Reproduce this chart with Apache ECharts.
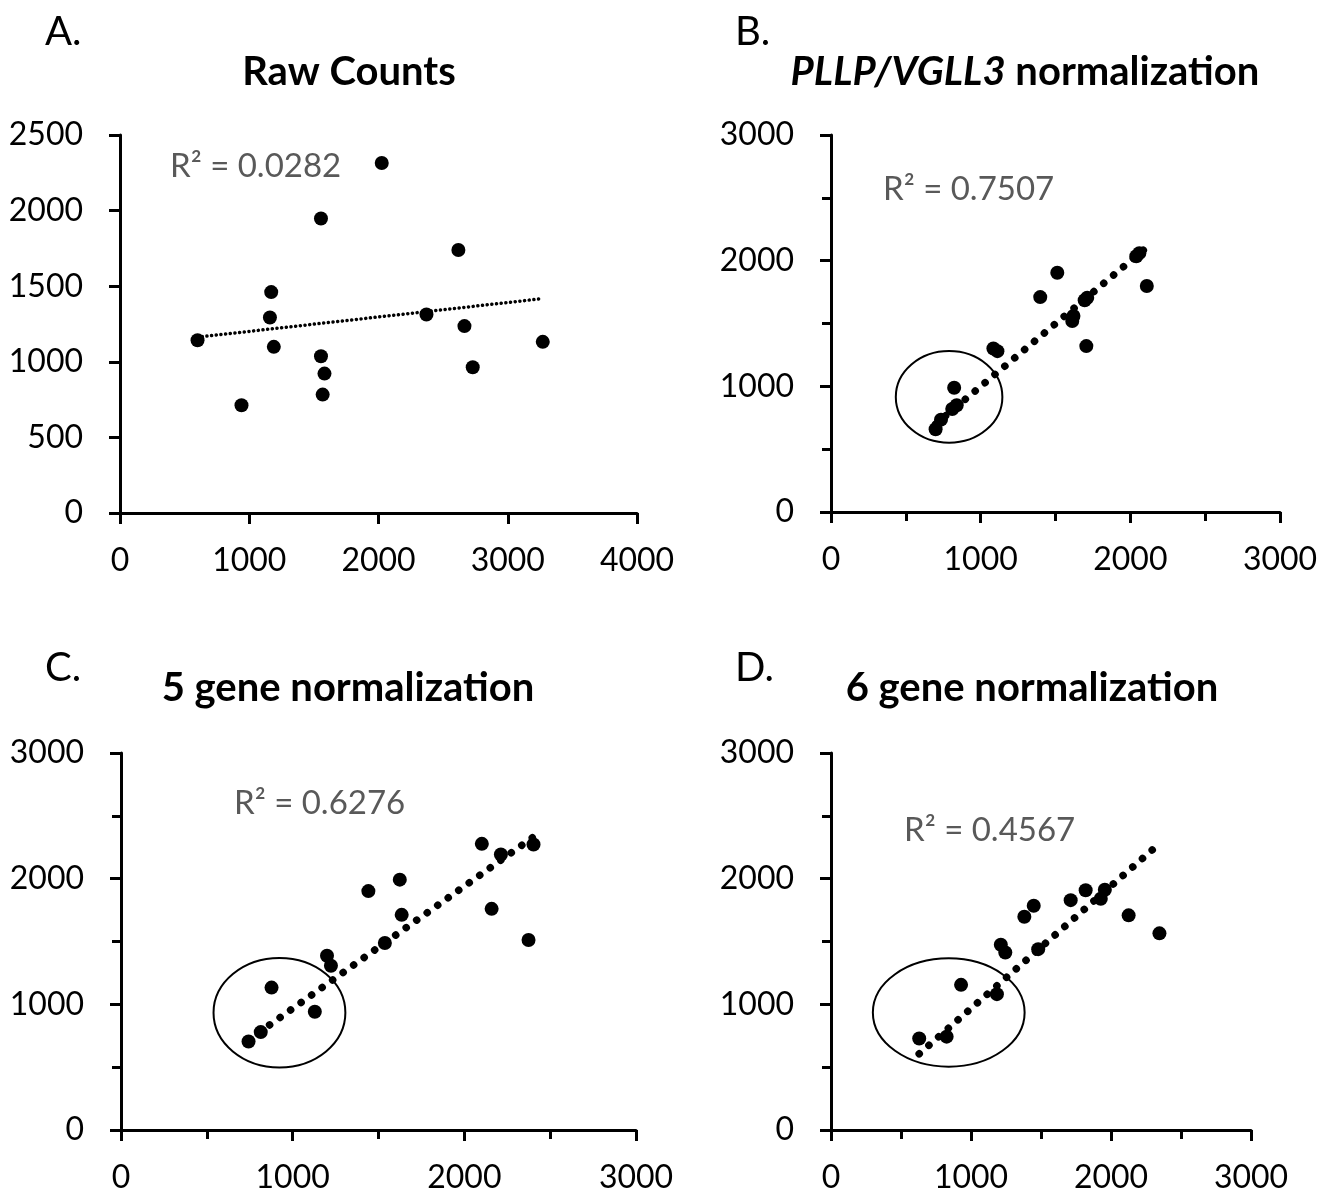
<!DOCTYPE html>
<html>
<head>
<meta charset="utf-8">
<script src="https://cdn.jsdelivr.net/npm/echarts@6/dist/echarts.min.js"></script>
<style>
  html, body { margin: 0; padding: 0; background: #fff; }
  #main { width: 1337px; height: 1195px; }
</style>
</head>
<body>
<div id="main"></div>
<script>
// values
var rawX = [600, 940, 1170, 1160, 1190, 1555, 1555, 1582, 1568, 2025, 2371, 2618, 2665, 2729, 3271];
var rawY = [1143, 713, 1461, 1293, 1099, 1948, 1037, 922, 783, 2315, 1313, 1739, 1236, 964, 1132];

var pllpX = [699, 735, 810, 840, 823, 1085, 1112, 1398, 1512, 1612, 1620, 1695, 1712, 1706, 2040, 2060, 2110];
var pllpY = [658, 735, 820, 850, 989, 1301, 1280, 1710, 1904, 1520, 1560, 1685, 1705, 1320, 2035, 2060, 1798];

var gene5X = [743, 814, 877, 1129, 1200, 1223, 1441, 1537, 1624, 1635, 2102, 2159, 2213, 2374, 2403];
var gene5Y = [704, 779, 1133, 941, 1387, 1307, 1901, 1488, 1992, 1712, 2277, 1760, 2192, 1512, 2272];

var gene6X = [630, 826, 929, 1185, 1213, 1245, 1381, 1448, 1480, 1712, 1819, 1927, 1956, 2126, 2346];
var gene6Y = [728, 743, 1155, 1081, 1474, 1413, 1697, 1784, 1439, 1829, 1908, 1840, 1912, 1708, 1565];

// trend lines (Excel linear fit, read as end points)
var trendRaw = [[600, 1163], [3271, 1418]];
var trendPllp = [[699, 699], [2110, 2107]];
var trend5 = [[743, 717], [2403, 2332]];
var trend6 = [[630, 606], [2346, 2279]];

var r2Labels = ['R\u00b2 = 0.0282', 'R\u00b2 = 0.7507', 'R\u00b2 = 0.6276', 'R\u00b2 = 0.4567'];

// circled groups: centre x, centre y, radius x, radius y (data units)
var ringPllp = [789, 916, 356, 365];
var ring5 = [923, 933, 384, 435];
var ring6 = [841, 935, 542, 431];

var FONT = 'Lato';

function zip(xs, ys) {
  var out = [];
  for (var i = 0; i < xs.length; i++) out.push([xs[i], ys[i]]);
  return out;
}

function makeAxis(gridIndex, max, interval, minor, margin) {
  return {
    type: 'value',
    gridIndex: gridIndex,
    min: 0,
    max: max,
    interval: interval,
    axisLine: { show: true, onZero: false, lineStyle: { color: '#000', width: 3 } },
    axisTick: { show: true, inside: false, length: 11, lineStyle: { color: '#000', width: 3 } },
    minorTick: { show: minor, splitNumber: 2, length: 9, lineStyle: { color: '#000', width: 3 } },
    axisLabel: {
      color: '#000', fontFamily: FONT, fontSize: 32, margin: margin,
      formatter: function (v) { return String(v); }
    },
    splitLine: { show: false },
    minorSplitLine: { show: false }
  };
}

function scatter(idx, data) {
  return {
    type: 'scatter',
    xAxisIndex: idx,
    yAxisIndex: idx,
    data: data,
    symbolSize: 14,
    itemStyle: { color: '#000', opacity: 1 },
    z: 3,
    silent: true
  };
}

function trend(idx, data, width, gap) {
  return {
    type: 'line',
    xAxisIndex: idx,
    yAxisIndex: idx,
    data: data,
    symbol: 'none',
    lineStyle: { color: '#000', width: width, type: [0.1, gap], cap: 'round', opacity: 1 },
    z: 2,
    silent: true
  };
}

var chart = echarts.init(document.getElementById('main'), null, { renderer: 'canvas' });

var option = {
  animation: false,
  backgroundColor: '#fff',
  grid: [
    { left: 120, top: 135, width: 517, height: 378, outerBoundsMode: 'none' },
    { left: 831, top: 135, width: 449, height: 377, outerBoundsMode: 'none' },
    { left: 121, top: 753, width: 515, height: 377, outerBoundsMode: 'none' },
    { left: 831, top: 753, width: 420, height: 377, outerBoundsMode: 'none' }
  ],
  xAxis: [
    makeAxis(0, 4000, 1000, false, 32),
    makeAxis(1, 3000, 1000, true, 32),
    makeAxis(2, 3000, 1000, true, 32),
    makeAxis(3, 3000, 1000, true, 32)
  ],
  yAxis: [
    makeAxis(0, 2500, 500, false, 37),
    makeAxis(1, 3000, 1000, true, 37),
    makeAxis(2, 3000, 1000, true, 37),
    makeAxis(3, 3000, 1000, true, 37)
  ],
  series: [
    trend(0, trendRaw, 3.5, 4.6),
    scatter(0, zip(rawX, rawY)),
    trend(1, trendPllp, 7.5, 12.8),
    scatter(1, zip(pllpX, pllpY)),
    trend(2, trend5, 7.5, 12.8),
    scatter(2, zip(gene5X, gene5Y)),
    trend(3, trend6, 7.5, 12.8),
    scatter(3, zip(gene6X, gene6Y))
  ]
};
chart.setOption(option);

// text and rings
function txt(x, y, text, opts) {
  var style = {
    text: text,
    fontFamily: FONT,
    fontSize: opts.size,
    fontWeight: opts.weight || 'normal',
    fill: opts.color || '#000',
    align: opts.align || 'left',
    verticalAlign: 'middle',
    textAlign: opts.align || 'left',
    textVerticalAlign: 'middle'
  };
  if (opts.rich) style.rich = opts.rich;
  return { type: 'text', x: x, y: y, style: style, silent: true };
}

function ring(gridIndex, r) {
  var c = chart.convertToPixel({ gridIndex: gridIndex }, [r[0], r[1]]);
  var ex = chart.convertToPixel({ gridIndex: gridIndex }, [r[0] + r[2], r[1] + r[3]]);
  return {
    type: 'ellipse',
    shape: { cx: c[0], cy: c[1], rx: Math.abs(ex[0] - c[0]), ry: Math.abs(c[1] - ex[1]) },
    style: { fill: 'none', stroke: '#000', lineWidth: 2 },
    z: 10,
    silent: true
  };
}

var elements = [
  txt(45, 32, 'A.', { size: 40 }),
  txt(735, 32, 'B.', { size: 40 }),
  txt(45, 668, 'C.', { size: 40 }),
  txt(735, 668, 'D.', { size: 40 }),
  txt(349, 72, 'Raw Counts', { size: 40, weight: 'bold', align: 'center' }),
  txt(1025, 72, '{i|PLLP/VGLL3} normalization', {
    size: 40, weight: 'bold', align: 'center',
    rich: { i: { fontFamily: FONT, fontSize: 40, fontWeight: 'bold', fontStyle: 'italic' } }
  }),
  txt(348, 688, '5 gene normalization', { size: 40, weight: 'bold', align: 'center' }),
  txt(1032, 688, '6 gene normalization', { size: 40, weight: 'bold', align: 'center' }),
  txt(170, 166, r2Labels[0], { size: 33, color: '#595959' }),
  txt(883, 189, r2Labels[1], { size: 33, color: '#595959' }),
  txt(234, 803, r2Labels[2], { size: 33, color: '#595959' }),
  txt(904, 830, r2Labels[3], { size: 33, color: '#595959' }),
  ring(1, ringPllp),
  ring(2, ring5),
  ring(3, ring6)
];

chart.setOption({ graphic: { elements: elements } });
</script>
</body>
</html>
